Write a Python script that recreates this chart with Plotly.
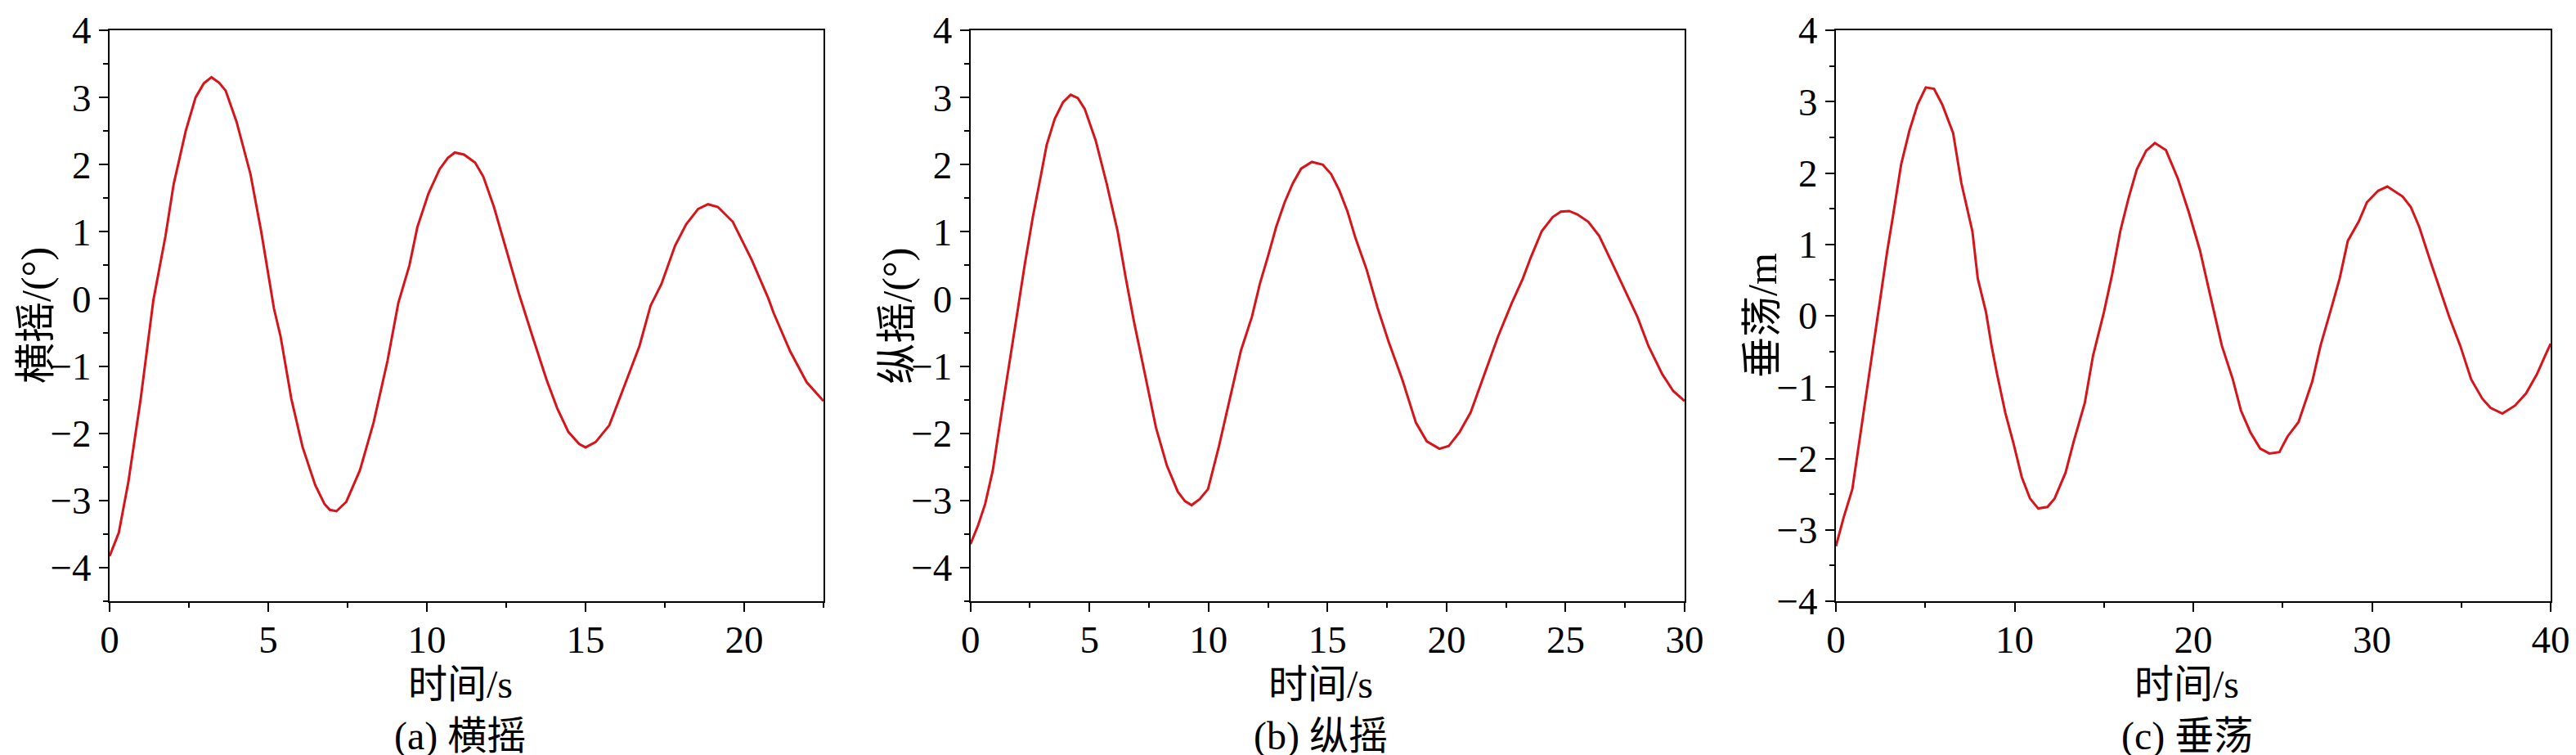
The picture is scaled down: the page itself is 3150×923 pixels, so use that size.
import plotly.graph_objects as go

# ---------------- data ----------------
t_roll = [0.0, 0.29, 0.59, 0.98, 1.38, 1.76, 2.02, 2.4, 2.71, 2.97, 3.21, 3.45, 3.66, 4.0, 4.44,
          4.78, 5.18, 5.39, 5.73, 6.08, 6.48, 6.77, 6.94, 7.15, 7.46, 7.89, 8.32, 8.76, 9.1, 9.45,
          9.7, 10.05, 10.4, 10.66, 10.88, 11.17, 11.52, 11.78, 12.12, 12.47, 12.9, 13.33, 13.77,
          14.11, 14.46, 14.8, 15.0, 15.32, 15.75, 16.18, 16.7, 17.05, 17.39, 17.82, 18.17, 18.55,
          18.86, 19.17, 19.64, 20.24, 20.76, 20.93, 21.45, 21.97, 22.5]
roll = [-3.83, -3.48, -2.73, -1.49, -0.02, 0.93, 1.71, 2.5, 3.0, 3.21, 3.30, 3.22, 3.1, 2.64, 1.86,
        1.0, -0.14, -0.56, -1.49, -2.2, -2.77, -3.05, -3.14, -3.16, -3.02, -2.55, -1.84, -0.92, -0.06, 0.5,
        1.07, 1.57, 1.93, 2.1, 2.18, 2.15, 2.03, 1.82, 1.36, 0.79, 0.08, -0.56, -1.2,
        -1.63, -1.98, -2.16, -2.21, -2.13, -1.88, -1.35, -0.7, -0.1, 0.22, 0.79, 1.11, 1.34,
        1.41, 1.37, 1.15, 0.58, 0.01, -0.21, -0.78, -1.24, -1.52]

t_pitch = [0.0, 0.32, 0.62, 0.94, 1.31, 1.7, 2.0, 2.28, 2.62, 2.97, 3.2, 3.54, 3.89, 4.21, 4.51,
           4.8, 5.26, 5.72, 6.18, 6.53, 6.87, 7.33, 7.79, 8.25, 8.71, 9.01, 9.29, 9.63, 9.98, 10.44,
           10.9, 11.36, 11.82, 12.16, 12.51, 12.85, 13.2, 13.54, 13.89, 14.34, 14.8, 15.15, 15.49,
           15.84, 16.18, 16.64, 17.1, 17.56, 18.14, 18.71, 19.17, 19.7, 20.09, 20.55, 21.01, 21.59,
           22.16, 22.74, 23.2, 23.54, 24.0, 24.46, 24.8, 25.15, 25.49, 25.95, 26.41, 26.99, 27.56,
           28.02, 28.48, 29.06, 29.52, 30.0]
pitch = [-3.65, -3.37, -3.05, -2.55, -1.69, -0.84, -0.13, 0.51, 1.22, 1.86, 2.29, 2.68, 2.93, 3.04, 2.99,
         2.83, 2.36, 1.72, 1.01, 0.3, -0.34, -1.12, -1.91, -2.48, -2.87, -3.01, -3.07, -2.98, -2.83, -2.19,
         -1.48, -0.77, -0.27, 0.23, 0.65, 1.08, 1.44, 1.72, 1.94, 2.04, 2.0, 1.86, 1.62,
         1.3, 0.9, 0.44, -0.13, -0.63, -1.2, -1.84, -2.12, -2.23, -2.19, -1.98, -1.69, -1.12,
         -0.56, -0.06, 0.3, 0.62, 1.01, 1.22, 1.3, 1.31, 1.26, 1.15, 0.94, 0.51, 0.09,
         -0.27, -0.7, -1.12, -1.37, -1.52]

t_heave = [0.0, 0.43, 0.92, 1.35, 1.96, 2.42, 2.88, 3.19, 3.65, 4.11, 4.57, 5.03, 5.49, 5.95, 6.56,
           7.02, 7.64, 7.94, 8.4, 8.71, 9.02, 9.48, 9.94, 10.4, 10.86, 11.32, 11.84, 12.24, 12.85,
           13.31, 13.93, 14.39, 15.0, 15.46, 15.92, 16.38, 16.84, 17.36, 17.85, 18.47, 19.14, 19.75,
           20.37, 20.98, 21.6, 22.21, 22.67, 23.19, 23.74, 24.26, 24.82, 25.28, 25.89, 26.66, 27.12,
           27.73, 28.19, 28.65, 29.26, 29.72, 30.34, 30.86, 31.72, 32.18, 32.64, 33.25, 33.87, 34.33,
           34.94, 35.55, 36.17, 36.63, 37.3, 38.0, 38.62, 39.23, 39.69, 40.0]
heave = [-3.23, -2.83, -2.43, -1.69, -0.69, 0.11, 0.92, 1.39, 2.12, 2.59, 2.96, 3.2, 3.18, 2.96, 2.56,
         1.86, 1.18, 0.52, 0.05, -0.42, -0.82, -1.36, -1.79, -2.26, -2.56, -2.7, -2.68, -2.56, -2.2,
         -1.76, -1.22, -0.56, 0.05, 0.58, 1.19, 1.65, 2.05, 2.31, 2.42, 2.32, 1.92, 1.45,
         0.92, 0.25, -0.42, -0.89, -1.33, -1.63, -1.86, -1.93, -1.91, -1.69, -1.49, -0.92, -0.42,
         0.11, 0.52, 1.05, 1.32, 1.59, 1.75, 1.81, 1.67, 1.52, 1.25, 0.78, 0.31, -0.02,
         -0.42, -0.89, -1.16, -1.29, -1.37, -1.26, -1.09, -0.82, -0.56, -0.39]

y_titles = ["横摇/(°)", "纵摇/(°)", "垂荡/m"]
captions = ["(a) 横摇", "(b) 纵摇", "(c) 垂荡"]
x_title = "时间/s"
x_ranges = [[0, 22.5], [0, 30], [0, 40]]
x_tickvals = [[0, 5, 10, 15, 20], [0, 5, 10, 15, 20, 25, 30], [0, 10, 20, 30, 40]]
x_minor_dticks = [2.5, 2.5, 5]
y_ranges = [[-4.5, 4], [-4.5, 4], [-4, 4]]
y_tickvals = [-4, -3, -2, -1, 0, 1, 2, 3, 4]

# ---------------- layout ----------------
W, H = 3150, 923
ML, MR, MT, MB = 126, 39, 29, 196
PW = W - ML - MR
PH = H - MT - MB
px_left = [126, 1178.7, 2237]
px_right = [999, 2052, 3111]
domains = [[(l - ML) / PW, min(1.0, (r - ML) / PW)] for l, r in zip(px_left, px_right)]

FONT = "Liberation Serif, Noto Sans CJK SC"
TICKFONT = dict(family="Liberation Serif", size=47, color="black")
FS = 48
RED = "#d7141a"

fig = go.Figure()
series = [(t_roll, roll), (t_pitch, pitch), (t_heave, heave)]
annotations = []
for i, (tx, ty) in enumerate(series):
    xa = "x" if i == 0 else f"x{i+1}"
    ya = "y" if i == 0 else f"y{i+1}"
    fig.add_trace(go.Scatter(x=tx, y=ty, mode="lines", xaxis=xa, yaxis=ya,
                             line=dict(color=RED, width=3), showlegend=False,
                             hoverinfo="skip"))
    common = dict(showline=True, linecolor="black", linewidth=2, mirror=True,
                  ticks="outside", ticklen=11, tickwidth=2, tickcolor="black",
                  showgrid=False, zeroline=False, ticklabeloverflow="allow",
                  automargin=False, tickfont=TICKFONT)
    xkey = "xaxis" if i == 0 else f"xaxis{i+1}"
    ykey = "yaxis" if i == 0 else f"yaxis{i+1}"
    fig.update_layout(**{
        xkey: dict(domain=domains[i], range=x_ranges[i], anchor=ya,
                   tickmode="array", tickvals=x_tickvals[i], ticklabelstandoff=-6,
                   minor=dict(dtick=x_minor_dticks[i], tick0=0, ticks="outside", ticklen=6,
                              tickwidth=2, tickcolor="black", showgrid=False),
                   **common),
        ykey: dict(domain=[0, 1], range=y_ranges[i], anchor=xa,
                   tickmode="array", tickvals=y_tickvals,
                   minor=dict(dtick=0.5, tick0=0, ticks="outside", ticklen=6, tickwidth=2,
                              tickcolor="black", showgrid=False),
                   **common),
    })
    cx = (domains[i][0] + domains[i][1]) / 2 - 8 / PW
    annotations.append(dict(text=x_title, xref="paper", yref="paper", x=cx, y=-(828 - 727) / PH,
                            xanchor="center", yanchor="middle", showarrow=False,
                            font=dict(family=FONT, size=FS, color="black")))
    annotations.append(dict(text=captions[i], xref="paper", yref="paper", x=cx, y=-(892 - 727) / PH,
                            xanchor="center", yanchor="middle", showarrow=False,
                            font=dict(family=FONT, size=FS, color="black")))
    ytx = (px_left[i] - 90 - ML) / PW
    annotations.append(dict(text=y_titles[i], xref="paper", yref="paper", x=ytx, y=0.5,
                            xanchor="center", yanchor="middle", textangle=-90, showarrow=False,
                            font=dict(family=FONT, size=50, color="black")))

fig.update_layout(width=W, height=H, margin=dict(l=ML, r=MR, t=MT, b=MB, autoexpand=False),
                  font=dict(family=FONT, size=FS, color="black"),
                  paper_bgcolor="white", plot_bgcolor="white", annotations=annotations)

fig.write_html("out.html")
